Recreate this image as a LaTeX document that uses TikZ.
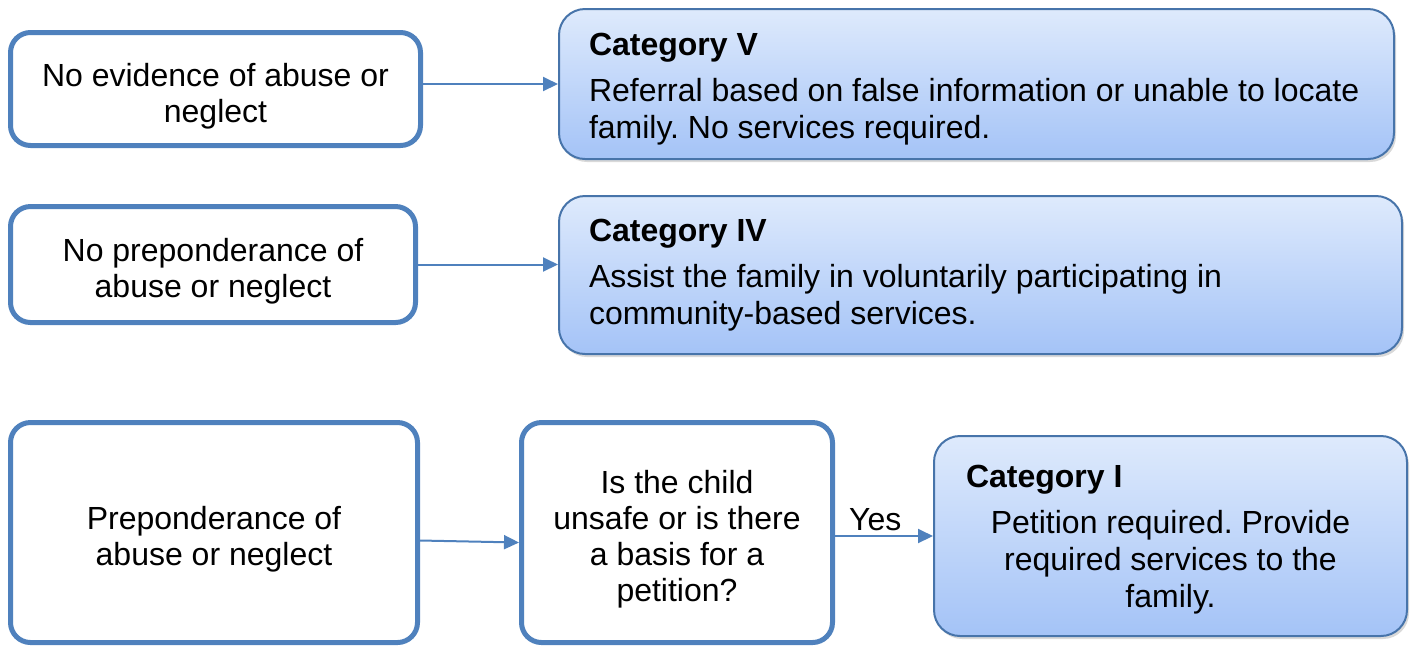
\documentclass[tikz,border=0pt]{standalone}
\usepackage{fontspec}
\setmainfont{Liberation Sans}
\usetikzlibrary{arrows.meta,shadows}
\definecolor{edgeblue}{RGB}{79,129,189}
\definecolor{toplight}{RGB}{222,234,252}
\definecolor{botlight}{RGB}{164,195,247}
\frenchspacing
\begin{document}
\begin{tikzpicture}[x=0.5pt,y=-0.5pt,
lift/.style={execute at begin node={\rule{0pt}{#1}}},
finding/.style={draw=edgeblue,line width=2.5pt,rounded corners=10pt,fill=white,align=flush center,
  inner xsep=0pt,font=\fontsize{16}{18}\selectfont,lift=18.5pt},
outcome/.style={draw=edgeblue!90!black,line width=1pt,rounded corners=13pt,top color=toplight,
  bottom color=botlight,drop shadow={shadow xshift=1pt,shadow yshift=-1.5pt,opacity=0.3},
  font=\fontsize{16}{18.5}\selectfont,inner xsep=15pt,inner ysep=0pt},
link/.style={draw=edgeblue,line width=1pt,-{Triangle[length=7.5pt,width=7pt]}}]
\useasboundingbox(0,0)rectangle(1414,645);
\node[finding,text width=205pt,minimum height=56.5pt](noevid)at(215.5,89){No evidence of abuse or\\neglect};
\node[finding,text width=202.5pt,minimum height=58pt](noprep)at(213,264.5){No preponderance of\\abuse or neglect};
\node[finding,text width=203.5pt,minimum height=110pt](prep)at(214,532.5){Preponderance of\\abuse or neglect};
\node[finding,text width=155.5pt,minimum height=110pt](unsafe)at(677,532.5){Is the child\\unsafe or is there\\a basis for a\\petition?};
\node[outcome,text width=387.5pt,align=flush left,minimum height=75pt,lift=16.7pt](catv)at(976.5,84)
{\textbf{Category V}\\[4.5pt]Referral based on false information or unable to locate\\family. No services required.};
\node[outcome,text width=391.5pt,align=flush left,minimum height=79pt](cativ)at(980.5,275)
{\textbf{Category IV}\\[4.5pt]Assist the family in voluntarily participating in\\community-based services.};
\node[outcome,text width=204.5pt,inner xsep=16pt,align=flush center,minimum height=100pt,lift=15.2pt](cati)at(1170.5,536)
{\makebox[\hsize][l]{\textbf{Category I}}\\[4.5pt]Petition required. Provide\\required services to the\\family.};
\draw[link](noevid.east|-catv.west)--(catv.west);
\draw[link](noprep.east)--(noprep.east-|cativ.west);
\draw[link]([yshift=-4pt]prep.east)--([yshift=-5pt]unsafe.west);
\draw[link](unsafe.east|-cati.west)--(cati.west)node[pos=0.41,above=-1pt,font=\fontsize{16}{18}\selectfont]{Yes};
\end{tikzpicture}
\end{document}
